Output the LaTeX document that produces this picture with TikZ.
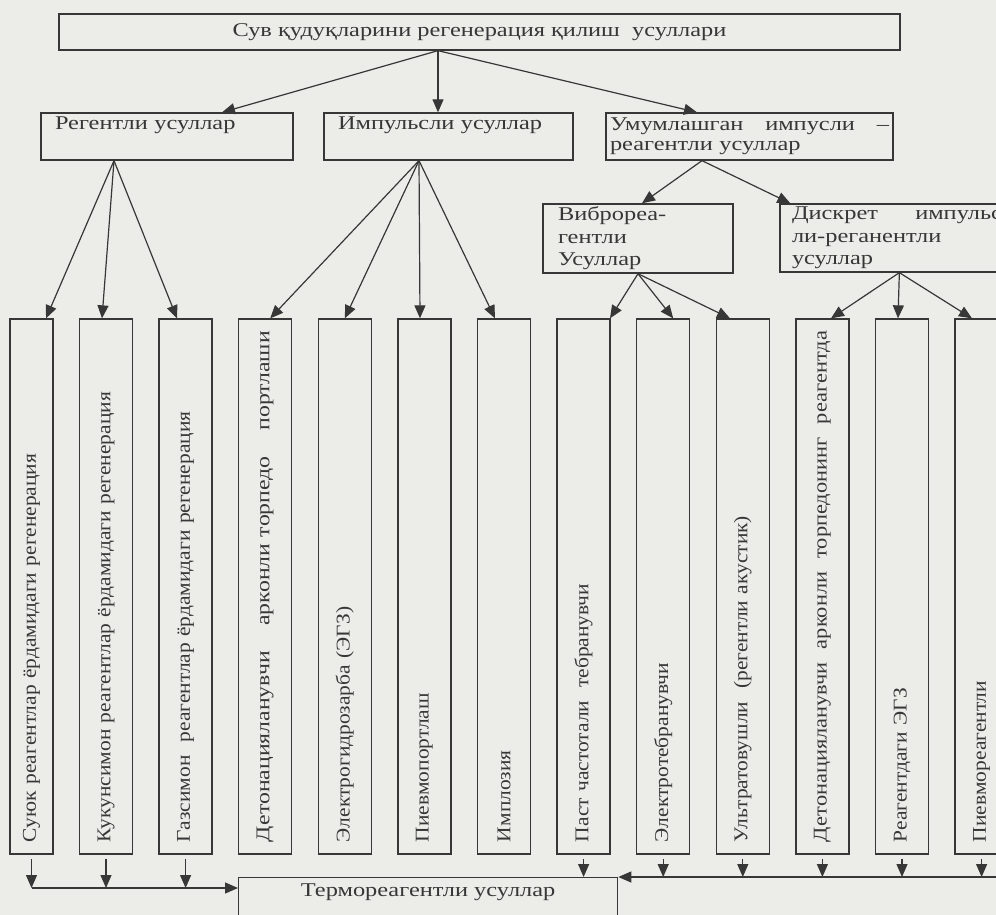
\documentclass[tikz,border=0pt]{standalone}
\usepackage{fontspec}
\setmainfont[FakeStretch=1.25]{Liberation Serif}
\newfontfamily\colfont[FakeStretch=1.1]{Liberation Serif}
\newfontfamily\midcolfont[FakeStretch=1.15]{Liberation Serif}
\newfontfamily\widecolfont[FakeStretch=1.22]{Liberation Serif}
\usepackage{tikz}
\usetikzlibrary{positioning, arrows.meta}

\definecolor{paper}{RGB}{236,236,233}
\definecolor{ink}{RGB}{55,55,55}

\begin{document}
\begin{tikzpicture}[x=1pt, y=-1pt, >={Triangle[length=13pt,width=11pt]},
    font=\fontsize{19.5pt}{22.5pt}\selectfont,
    box/.style={draw=ink, text=ink, line width=1.3pt, align=left, inner ysep=3pt},
    colbox/.style={box, rotate=90, minimum width=535pt, minimum height=53pt, text width=511pt,
        inner xsep=12pt, font=\colfont\fontsize{19.5pt}{22.5pt}\selectfont},
    widecol/.style={colbox, font=\widecolfont\fontsize{19.5pt}{22.5pt}\selectfont},
    link/.style={->, color=ink, line width=1.2pt}]
    \useasboundingbox[fill=paper] (0,0) rectangle (996,915);
    \clip (0,0) rectangle (996,915);

    \node[box, minimum width=841pt, minimum height=36pt, align=center] (sys) at (479.5,32) {Сув қудуқларини регенерация қилиш\ \ усуллари};

    \node[box, text width=224pt, inner xsep=14pt, minimum height=47pt, text depth=26pt] (reg) at (167,136.5) {Регентли усуллар};
    \node[box, text width=221pt, inner xsep=14pt, minimum height=47pt, text depth=26pt] (imp) at (448.5,136.5) {Импульсли усуллар};
    \node[box, text width=279pt, inner xsep=4pt, minimum height=47pt, font=\fontsize{19.5pt}{20pt}\selectfont] (gen) at (749.5,136.5) {Умумлашган\hfill импусли\hfill –\\реагентли усуллар};

    \node[box, text width=160pt, inner xsep=15pt, minimum height=69pt] (vib) at (638,238.5) {Виброреа-\\гентли\\Усуллар};
    \node[box, text width=210pt, inner xsep=12pt, minimum height=68pt] (dis) at (897,238) {Дискрет\hfill импульс\\ли-реганентли\\усуллар};

    \node[colbox, minimum height=43pt] (c1) at (31.5,586.5) {Суюк реагентлар ёрдамидаги регенерация};
    \node[colbox] (c2) at (106,586.5) {Кукунсимон реагентлар ёрдамидаги регенерация};
    \node[colbox] (c3) at (185.6,586.5) {Газсимон\ \ реагентлар ёрдамидаги регенерация};
    \node[widecol] (c4) at (265.2,586.5) {Детонацияланувчи\hfill арконли торпедо\hfill портлаши};
    \node[colbox] (c5) at (344.8,586.5) {Электрогидрозарба (ЭГЗ)};
    \node[colbox] (c6) at (424.4,586.5) {Пиевмопортлаш};
    \node[colbox] (c7) at (504,586.5) {Имплозия};
    \node[colbox] (c8) at (583.6,586.5) {Паст частотали\ \ тебранувчи};
    \node[colbox] (c9) at (663.2,586.5) {Электротебранувчи};
    \node[colbox] (c10) at (742.8,586.5) {Ультратовушли\ \ (регентли акустик)};
    \node[colbox, font=\midcolfont\fontsize{19.5pt}{22.5pt}\selectfont] (c11) at (822.4,586.5) {Детонацияланувчи\hfill арконли\hfill торпедонинг\hfill реагентда};
    \node[colbox] (c12) at (902,586.5) {Реагентдаги ЭГЗ};
    \node[colbox] (c13) at (981.6,586.5) {Пиевмореагентли};

    \node[box, anchor=north west, minimum width=379pt, minimum height=80pt, align=center, text depth=55pt] (th) at (238,877) {Термореагентли усуллар};

    \path[link]
    ([xshift=-41.5pt]sys.south) edge ([xshift=55pt]reg.north)
    ([xshift=-41.5pt]sys.south) edge ([xshift=-10.5pt]imp.north)
    ([xshift=-41.5pt]sys.south) edge ([xshift=-52.5pt]gen.north)
    ([xshift=-47.5pt]gen.south) edge ([xshift=4pt]vib.north)
    ([xshift=-47.5pt]gen.south) edge ([xshift=11pt]dis.north west)
    ([xshift=-53pt]reg.south) edge ([xshift=14.5pt]c1.east)
    ([xshift=-53pt]reg.south) edge ([xshift=-4pt]c2.east)
    ([xshift=-53pt]reg.south) edge ([xshift=-8.6pt]c3.east)
    ([xshift=-29.5pt]imp.south) edge ([xshift=5pt]c4.east)
    ([xshift=-29.5pt]imp.south) edge (c5.east)
    ([xshift=-29.5pt]imp.south) edge ([xshift=-4.4pt]c6.east)
    ([xshift=-29.5pt]imp.south) edge ([xshift=-9pt]c7.east)
    (vib.south) edge ([xshift=26.4pt]c8.east)
    (vib.south) edge ([xshift=10pt]c9.east)
    (vib.south) edge ([xshift=-12.8pt]c10.east)
    ([xshift=120pt]dis.south west) edge ([xshift=8.6pt]c11.east)
    ([xshift=120pt]dis.south west) edge ([xshift=-4pt]c12.east)
    ([xshift=120pt]dis.south west) edge ([xshift=-9.6pt]c13.east);

    % collecting lines into the bottom box
    \coordinate (jL) at (31.5,888);
    \coordinate (jR) at (1000,877);
    \draw[link] (jL) -- (th.west |- jL);
    \draw[link] (jR) -- (th.north east);
    \draw[link] ([yshift=-4pt]c1.west) -- (c1.west |- jL);
    \draw[link] ([yshift=-4pt]c2.west) -- (c2.west |- jL);
    \draw[link] ([yshift=-4pt]c3.west) -- (c3.west |- jL);
    \draw[link] ([yshift=-4pt]c8.west) -- (c8.west |- th.north);
    \draw[link] ([yshift=-4pt]c9.west) -- (c9.west |- jR);
    \draw[link] ([yshift=-4pt]c10.west) -- (c10.west |- jR);
    \draw[link] ([yshift=-4pt]c11.west) -- (c11.west |- jR);
    \draw[link] ([yshift=-4pt]c12.west) -- (c12.west |- jR);
    \draw[link] ([yshift=-4pt]c13.west) -- (c13.west |- jR);
\end{tikzpicture}
\end{document}
